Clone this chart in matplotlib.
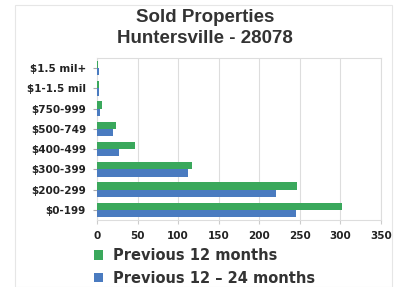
import matplotlib
matplotlib.use("Agg")
import matplotlib.pyplot as plt
from matplotlib.patches import Rectangle
import numpy as np

categories = ["$0-199", "$200-299", "$300-399", "$400-499", "$500-749",
              "$750-999", "$1-1.5 mil", "$1.5 mil+"]
prev_12 = [302, 247, 117, 47, 23, 6, 2, 1]
prev_12_24 = [245, 221, 112, 27, 20, 4, 3, 2]
series_names = ["Previous 12 months", "Previous 12 \u2013 24 months"]
xticks = [0, 50, 100, 150, 200, 250, 300, 350]

plt.rcParams['font.family'] = ['DejaVu Sans']

W, H = 395, 287
fig = plt.figure(figsize=(W/100, H/100), dpi=100)

# faint chart frame
fig.patches.append(Rectangle((15/W, 0), (392-15)/W, (H-5)/H, transform=fig.transFigure,
                             fill=False, edgecolor="#e6e6e6", linewidth=0.8))

ax = fig.add_axes([97/W, 1 - 220/H, (381-97)/W, (220-58)/H])

y = np.arange(len(categories))
h = 0.36
green = "#3aa85c"
blue = "#4a7bc0"
ax.barh(y + h/2, prev_12, height=h, color=green, label=series_names[0], zorder=3)
ax.barh(y - h/2, prev_12_24, height=h, color=blue, label=series_names[1], zorder=3)

ax.set_xlim(0, 350)
ax.set_ylim(-0.5, len(categories) - 0.5)
ax.set_xticks(xticks)
ax.set_xticklabels([str(v) for v in xticks], fontsize=7.5, color="#222222", fontweight="bold")
ax.set_yticks(y)
ax.set_yticklabels(categories, fontsize=7.5, color="#222222", fontweight="bold")
ax.grid(axis="x", color="#dddddd", linewidth=0.8, zorder=0)
for s in ax.spines.values():
    s.set_color("#dddddd")
    s.set_linewidth(0.8)
ax.tick_params(axis="y", length=3, color="#aaaaaa", pad=5)
ax.tick_params(axis="x", length=3, color="#cccccc", pad=5)

tfam = ['Liberation Sans', 'DejaVu Sans']
fig.text(205/W, 1 - 18/H, "Sold Properties", ha="center", va="center",
         fontsize=13.5, fontweight="bold", color="#333333", family=tfam)
fig.text(205/W, 1 - 38.5/H, "Huntersville - 28078", ha="center", va="center",
         fontsize=13.5, fontweight="bold", color="#333333", family=tfam)

leg = ax.legend(loc="upper left", bbox_to_anchor=(-0.01, -0.175), frameon=False,
                handlelength=0.62, handleheight=0.62, handletextpad=0.7,
                labelspacing=0.5, borderaxespad=0, borderpad=0,
                prop={"weight": "bold", "size": 10.5})
for t in leg.get_texts():
    t.set_color("#333333")

fig.savefig("out.png", dpi=100)
